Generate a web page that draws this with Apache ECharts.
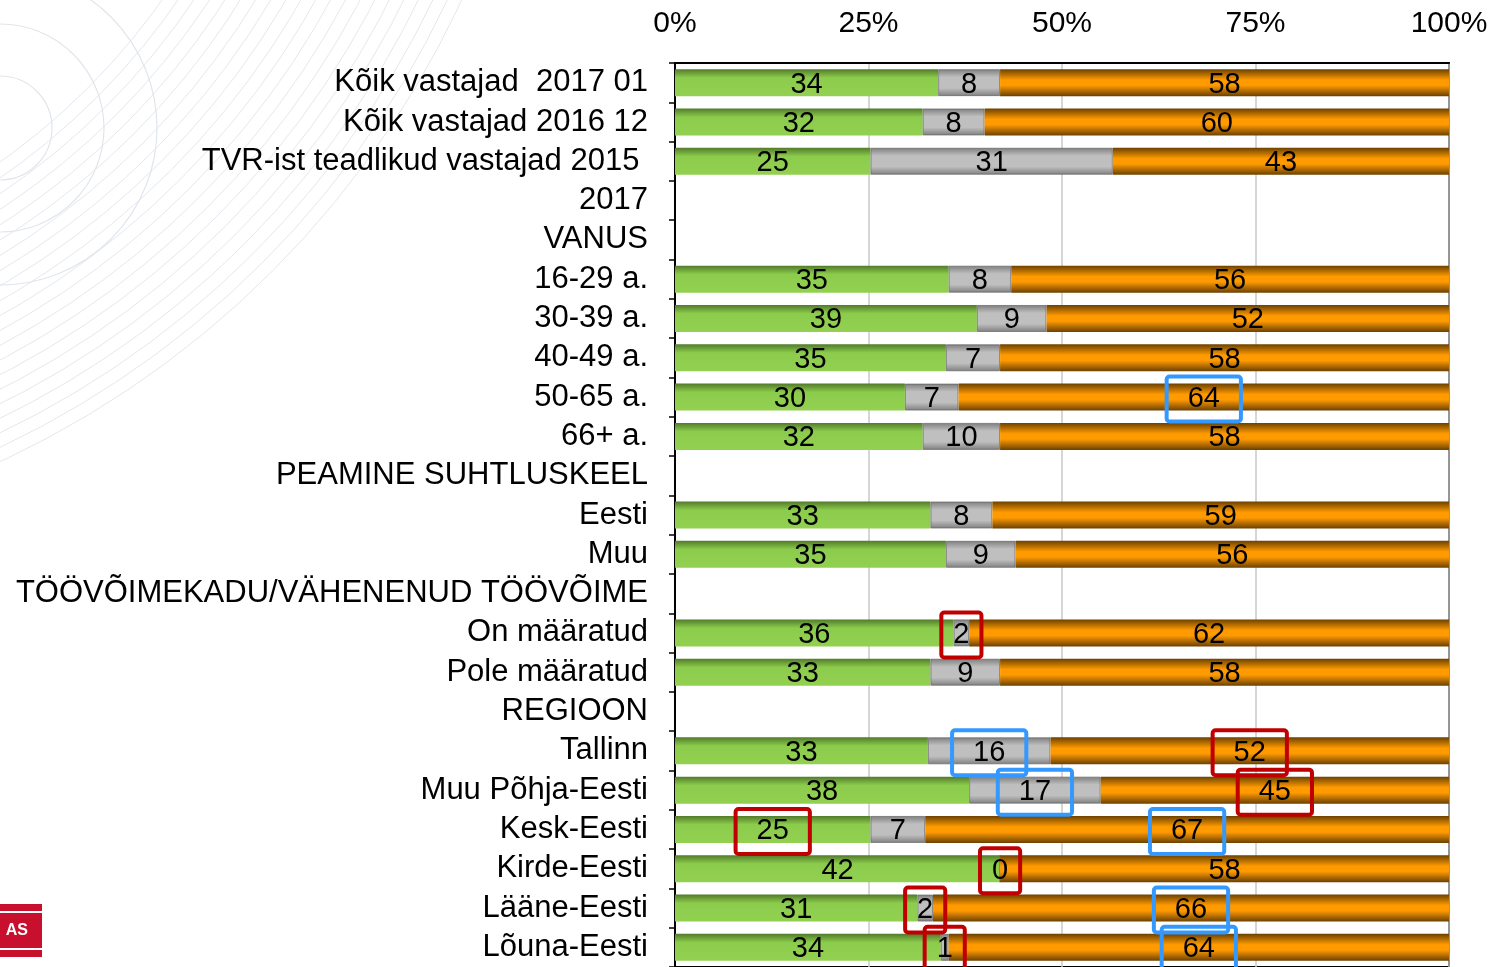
<!DOCTYPE html>
<html>
<head>
<meta charset="utf-8">
<title>Hinnangud</title>
<script src="https://cdn.jsdelivr.net/npm/echarts@6/dist/echarts.min.js"></script>
<style>
  html, body { margin: 0; padding: 0; background: #ffffff; }
  #chart { width: 1495px; height: 967px; }
</style>
</head>
<body>
<div id="chart"></div>
<script>
// Row labels (top to bottom); group headers have no values
const categories = [
  'Kõik vastajad  2017 01',
  'Kõik vastajad 2016 12',
  'TVR-ist teadlikud vastajad 2015 ',
  '2017',
  'VANUS',
  '16-29 a.',
  '30-39 a.',
  '40-49 a.',
  '50-65 a.',
  '66+ a.',
  'PEAMINE SUHTLUSKEEL',
  'Eesti',
  'Muu',
  'TÖÖVÕIMEKADU/VÄHENENUD TÖÖVÕIME',
  'On määratud',
  'Pole määratud',
  'REGIOON',
  'Tallinn',
  'Muu Põhja-Eesti',
  'Kesk-Eesti',
  'Kirde-Eesti',
  'Lääne-Eesti',
  'Lõuna-Eesti'
];

// Answer shares in % (green / grey / orange)
const greenValues  = [34, 32, 25, null, null, 35, 39, 35, 30, 32, null, 33, 35, null, 36, 33, null, 33, 38, 25, 42, 31, 34];
const greyValues   = [ 8,  8, 31, null, null,  8,  9,  7,  7, 10, null,  8,  9, null,  2,  9, null, 16, 17,  7,  0,  2,  1];
const orangeValues = [58, 60, 43, null, null, 56, 52, 58, 64, 58, null, 59, 56, null, 62, 58, null, 52, 45, 67, 58, 66, 64];

const xTickLabels = ['0%', '25%', '50%', '75%', '100%'];

// Values picked out with a frame: [row label, series index, frame colour]
const highlights = [
  ['50-65 a.', 2, 'blue'],
  ['On määratud', 1, 'red'],
  ['Tallinn', 1, 'blue'],
  ['Tallinn', 2, 'red'],
  ['Muu Põhja-Eesti', 1, 'blue'],
  ['Muu Põhja-Eesti', 2, 'red'],
  ['Kesk-Eesti', 0, 'red'],
  ['Kesk-Eesti', 2, 'blue'],
  ['Kirde-Eesti', 1, 'red'],
  ['Lääne-Eesti', 1, 'red'],
  ['Lääne-Eesti', 2, 'blue'],
  ['Lõuna-Eesti', 1, 'red'],
  ['Lõuna-Eesti', 2, 'blue']
];

const FONT = '"Liberation Sans", Arial, sans-serif';
const LABEL_SIZE = 31;
const VALUE_SIZE = 29;
const TICK_SIZE = 30;
const frameColors = { red: '#c00000', blue: '#3399ff' };

const LG = echarts.graphic.LinearGradient;
const fills = [
  new LG(0, 0, 0, 1, [
    { offset: 0, color: '#527a2a' },
    { offset: 0.32, color: '#8ccc4c' },
    { offset: 1, color: '#92d050' }
  ]),
  new LG(0, 0, 0, 1, [
    { offset: 0, color: '#7e7e7e' },
    { offset: 0.3, color: '#bfbfbf' },
    { offset: 0.7, color: '#bfbfbf' },
    { offset: 1, color: '#7e7e7e' }
  ]),
  new LG(0, 0, 0, 1, [
    { offset: 0, color: '#6c4100' },
    { offset: 0.4, color: '#ff9a00' },
    { offset: 0.6, color: '#ff9a00' },
    { offset: 1, color: '#6c4100' }
  ])
];

// 100 % stacked: every segment is drawn as its share of the row total
const seriesValues = [greenValues, greyValues, orangeValues];
const rowTotals = categories.map((_, i) =>
  seriesValues.reduce((s, arr) => s + (arr[i] == null ? 0 : arr[i]), 0));

function buildData(sIdx) {
  return seriesValues[sIdx].map((v, i) => {
    if (v == null) return { value: null, raw: null };
    const item = { value: v / rowTotals[i] * 100, raw: v };
    const hl = highlights.find(h => h[0] === categories[i] && h[1] === sIdx);
    if (hl) {
      const digits = String(v).length;
      item.label = {
        borderColor: frameColors[hl[2]],
        borderWidth: 4,
        borderRadius: 3,
        padding: digits > 1 ? [7, 21, 6, 21] : [7, 12, 6, 12]
      };
    }
    return item;
  });
}

const seriesNames = ['green', 'grey', 'orange'];
const series = seriesNames.map((name, sIdx) => ({
  name: name,
  type: 'bar',
  stack: 'total',
  barWidth: 27,
  data: buildData(sIdx),
  itemStyle: {
    color: fills[sIdx],
    borderColor: sIdx === 1 ? 'rgba(100,100,100,0.7)' : 'transparent',
    borderWidth: sIdx === 1 ? 1 : 0
  },
  label: {
    show: true,
    position: 'inside',
    color: '#000',
    fontFamily: FONT,
    fontSize: VALUE_SIZE,
    lineHeight: 32,
    offset: [0, 2],
    formatter: p => (p.data.raw == null ? '' : String(p.data.raw))
  },
  emphasis: { disabled: true },
  z: 3
}));

// Faint decorative arcs in the upper left corner
const decor = [];
for (let r = 690; r <= 950; r += 13) {
  decor.push({
    type: 'circle', silent: true, z: -10,
    shape: { cx: -400, cy: -400, r: r },
    style: { fill: 'none', stroke: '#e4e8ee', lineWidth: 1 }
  });
}
[52, 104, 157].forEach(r => decor.push({
  type: 'circle', silent: true, z: -10,
  shape: { cx: 0, cy: 128, r: r },
  style: { fill: 'none', stroke: '#e1e6ec', lineWidth: 1.2 }
}));

// Corner logo
decor.push(
  { type: 'rect', silent: true, shape: { x: 0, y: 904, width: 42, height: 53 }, style: { fill: '#c8102e' } },
  { type: 'rect', silent: true, shape: { x: 0, y: 911, width: 42, height: 2 }, style: { fill: '#ffffff' } },
  { type: 'rect', silent: true, shape: { x: 0, y: 948, width: 42, height: 2 }, style: { fill: '#ffffff' } },
  { type: 'text', silent: true, x: 28, y: 931,
    style: { text: 'AS', fill: '#ffffff', font: 'bold 16px ' + FONT, align: 'right', verticalAlign: 'middle' } }
);

const chart = echarts.init(document.getElementById('chart'), null, { renderer: 'canvas' });
chart.setOption({
  animation: false,
  backgroundColor: '#ffffff',
  textStyle: { fontFamily: FONT },
  graphic: { elements: decor },
  grid: {
    left: 675,
    top: 63,
    width: 774,
    height: 909,
    show: true,
    borderColor: '#000',
    borderWidth: 2,
    backgroundColor: 'transparent'
  },
  xAxis: {
    type: 'value',
    position: 'top',
    min: 0,
    max: 100,
    interval: 25,
    axisLine: { show: true, lineStyle: { color: '#000', width: 2 } },
    axisTick: { show: false },
    splitLine: { show: true, lineStyle: { color: '#c8c8c8', width: 1.5 } },
    axisLabel: {
      color: '#000',
      fontFamily: FONT,
      fontSize: TICK_SIZE,
      margin: 24,
      formatter: v => xTickLabels[Math.round(v / 25)]
    }
  },
  yAxis: {
    type: 'category',
    inverse: true,
    data: categories,
    axisLine: { show: true, lineStyle: { color: '#000', width: 2 } },
    axisTick: { show: true, length: 6, lineStyle: { color: '#000', width: 1.5 } },
    axisLabel: {
      color: '#000',
      fontFamily: FONT,
      fontSize: LABEL_SIZE,
      margin: 27,
      interval: 0
    },
    splitLine: { show: false }
  },
  series: series
});
</script>
</body>
</html>
